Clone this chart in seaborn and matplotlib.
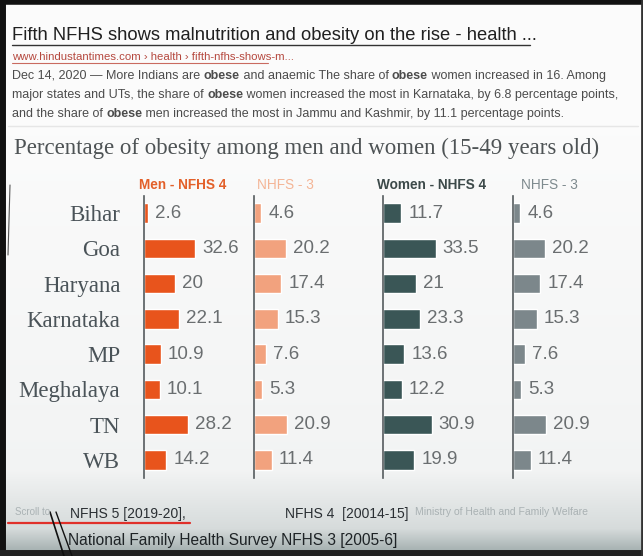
import numpy as np
import pandas as pd
import matplotlib
matplotlib.use("Agg")
import matplotlib.pyplot as plt
import seaborn as sns

sns.set_theme(style="white")
plt.rcParams['font.family'] = ['Liberation Sans', 'DejaVu Sans']

# ---------------- data ----------------
states = ["Bihar", "Goa", "Haryana", "Karnataka", "MP", "Meghalaya", "TN", "WB"]
men_nfhs4 = [2.6, 32.6, 20, 22.1, 10.9, 10.1, 28.2, 14.2]
men_nfhs3 = [4.6, 20.2, 17.4, 15.3, 7.6, 5.3, 20.9, 11.4]
women_nfhs4 = [11.7, 33.5, 21, 23.3, 13.6, 12.2, 30.9, 19.9]
women_nfhs3 = [4.6, 20.2, 17.4, 15.3, 7.6, 5.3, 20.9, 11.4]
panel_titles = ["Men - NFHS 4", "NHFS - 3", "Women - NHFS 4", "NHFS - 3"]

W, H = 643, 556
fig = plt.figure(figsize=(W / 100, H / 100), dpi=100)

def fx(x):
    return x / W

def fy(y):
    return 1 - y / H

# ---------------- background ----------------
bg = fig.add_axes([0, 0, 1, 1], zorder=-5)
grad = np.ones((H, 1, 3))
top = np.array([0.985, 0.985, 0.985])
mid = np.array([0.95, 0.955, 0.955])
low = np.array([0.84, 0.86, 0.86])
bot = np.array([0.60, 0.65, 0.65])
for r in range(H):
    if r < 128:
        c = top
    elif r < 470:
        t = (r - 128) / (470 - 128)
        c = top * (1 - t) + mid * t
    elif r < 528:
        t = (r - 470) / 58
        c = mid * (1 - t) + low * t
    else:
        t = (r - 528) / 28
        c = low * (1 - t) + bot * t
    grad[r, 0] = c
bg.imshow(grad, aspect="auto", extent=[0, W, H, 0])
bg.set_xlim(0, W)
bg.set_ylim(H, 0)
bg.axis("off")
# screenshot frame
bg.plot([2, 2], [0, H], color="#111", lw=5)
bg.plot([0, W], [1.5, 1.5], color="#111", lw=4)
bg.plot([0, W], [H - 3, H - 3], color="#222", lw=5)
bg.plot([W - 1, W - 1], [0, H], color="#333", lw=2)
bg.plot([8, W - 5], [126, 126], color="#e6e6e6", lw=1)

# ---------------- header text ----------------
fig.text(fx(12), fy(35), "Fifth NFHS shows malnutrition and obesity on the rise - health ...",
         fontsize=13.2, color="#202020", va="center", ha="left")
bg.plot([12, 530], [45, 45], color="#333", lw=1)
fig.text(fx(12), fy(57), "www.hindustantimes.com \u203a health \u203a fifth-nfhs-shows-m...",
         fontsize=8.2, color="#b5483e", va="center", ha="left")
bg.plot([12, 268], [63, 63], color="#c96a60", lw=0.8)

snippet = [
    [("Dec 14, 2020 \u2014 More Indians are ", False), ("obese", True),
     (" and anaemic The share of ", False), ("obese", True),
     (" women increased in 16. Among", False)],
    [("major states and UTs, the share of ", False), ("obese", True),
     (" women increased the most in Karnataka, by 6.8 percentage points,", False)],
    [("and the share of ", False), ("obese", True),
     (" men increased the most in Jammu and Kashmir, by 11.1 percentage points.", False)],
]
renderer = fig.canvas.get_renderer()
for i, line in enumerate(snippet):
    x = 12
    y = 76 + i * 19
    for txt, bold in line:
        t = fig.text(fx(x), fy(y), txt, fontsize=9.0, color="#4c4c4c",
                     fontweight="bold" if bold else "normal", va="center", ha="left")
        bb = t.get_window_extent(renderer=renderer)
        x += bb.width

# ---------------- chart title ----------------
fig.text(fx(14), fy(148), "Percentage of obesity among men and women (15-49 years old)",
         fontsize=16.5, color="#4e5355", va="center", ha="left",
         family=["Liberation Serif", "DejaVu Serif"])

# ---------------- panels ----------------
df = pd.DataFrame({
    "state": states,
    "men4": men_nfhs4,
    "men3": men_nfhs3,
    "women4": women_nfhs4,
    "women3": women_nfhs3,
})
cols = ["men4", "men3", "women4", "women3"]
bar_colors = ["#e8541c", "#f2a27e", "#3a5656", "#7c878b"]
title_colors = ["#e3602a", "#f4b596", "#3d4a4a", "#7e8a8e"]
title_weights = ["bold", "normal", "bold", "normal"]
left_px = [144, 254, 383, 513]
title_x = [183, 285, 432, 549]
ax_w_px = 100
px_per_unit = 1.57
row_top, row_bot = 195.5, 477.5

for k, col in enumerate(cols):
    ax = fig.add_axes([fx(left_px[k]), fy(row_bot), ax_w_px / W, (row_bot - row_top) / H])
    ax.patch.set_alpha(0)
    sns.barplot(data=df, x=col, y="state", orient="h", color=bar_colors[k],
                width=0.55, ax=ax, saturation=1)
    ax.set_xlim(0, ax_w_px / px_per_unit)
    ax.set_ylim(7.5, -0.5)
    for i, v in enumerate(df[col]):
        ax.annotate(f"{v:g}", xy=(v, i), xytext=(5, 0), textcoords="offset points",
                    va="center", ha="left", fontsize=13.5, color="#6a6e70")
    for s in ["top", "right", "bottom"]:
        ax.spines[s].set_visible(False)
    ax.spines["left"].set_color("#555b5e")
    ax.spines["left"].set_linewidth(1.2)
    ax.set_xticks([])
    ax.set_xlabel("")
    ax.set_ylabel("")
    if k == 0:
        ax.set_yticks(range(len(states)))
        ax.set_yticklabels(states, fontsize=16.5, color="#4a5358",
                           family=["Liberation Serif", "DejaVu Serif"])
        ax.tick_params(axis="y", length=0, pad=17)
    else:
        ax.set_yticks([])
    fig.text(fx(title_x[k]), fy(185), panel_titles[k], fontsize=9.8,
             color=title_colors[k], fontweight=title_weights[k], ha="center", va="center")

# ---------------- footer ----------------
fig.text(fx(15), fy(512), "Scroll to", fontsize=7, color="#aab2b4", va="center")
fig.text(fx(415), fy(512), "Ministry of Health and Family Welfare", fontsize=7.5,
         color="#a9b1b3", va="center")
fig.text(fx(70), fy(514), "NFHS 5 [2019-20],", fontsize=10, color="#2a2f33", va="center")
fig.text(fx(285), fy(514), "NFHS 4  [20014-15]", fontsize=10, color="#2a2f33", va="center")
fig.text(fx(68), fy(540), "National Family Health Survey NFHS 3 [2005-6]", fontsize=11.2,
         color="#1e2326", va="center")
bg.plot([8, 190], [523, 523], color="#e0302a", lw=1.6)
bg.plot([50, 64], [512, 556], color="#111", lw=1.2)
bg.plot([56, 72], [512, 556], color="#111", lw=1.0)
bg.plot([10, 8], [185, 255], color="#555", lw=0.8)

fig.savefig("out.png", dpi=100)
